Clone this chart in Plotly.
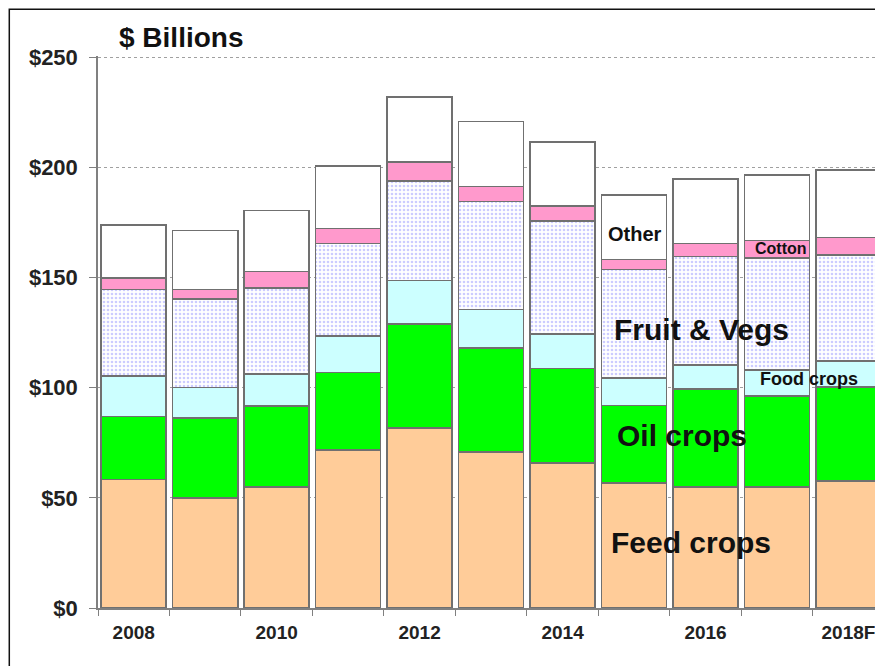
import plotly.graph_objects as go

years = ["2008", "2009", "2010", "2011", "2012", "2013", "2014", "2015", "2016", "2017", "2018F"]
tick_labels = ["2008", "", "2010", "", "2012", "", "2014", "", "2016", "", "2018F"]

feed_crops = [58.3, 50.0, 55.0, 71.6, 81.8, 70.7, 65.9, 56.8, 55.0, 54.9, 57.5]
oil_crops = [28.6, 36.1, 36.6, 35.2, 47.0, 47.3, 42.7, 35.1, 44.5, 41.2, 42.9]
food_crops = [18.3, 13.9, 14.5, 16.7, 19.9, 17.5, 15.8, 12.4, 10.8, 11.8, 11.6]
fruit_vegs = [39.3, 40.1, 39.0, 41.9, 45.0, 49.0, 51.1, 49.3, 49.2, 51.0, 48.3]
cotton = [5.3, 4.4, 7.6, 6.8, 8.7, 6.8, 6.8, 4.5, 5.9, 7.8, 7.8]
other = [23.9, 26.8, 27.7, 28.4, 29.4, 29.5, 29.2, 29.2, 29.2, 29.7, 30.7]

y_ticks = [0, 50, 100, 150, 200, 250]
y_tick_text = ["$0", "$50", "$100", "$150", "$200", "$250"]

FONT = "Arial, Liberation Sans, sans-serif"
xpos = list(range(len(years)))
line = dict(color="#707070", width=1.6)

fig = go.Figure()
series = [
    ("Feed crops", feed_crops, "#FFCC99", None),
    ("Oil crops", oil_crops, "#00FF00", None),
    ("Food crops", food_crops, "#CCFFFF", None),
    ("Fruit & Vegs", fruit_vegs, "#FFFFFF", dict(shape=".", fgcolor="#9a9aff", bgcolor="#FFFFFF", size=4, solidity=0.35)),
    ("Cotton", cotton, "#FF99CC", None),
    ("Other", other, "#FFFFFF", None),
]
for name, vals, col, pat in series:
    marker = dict(color=col, line=line)
    if pat:
        marker["pattern"] = pat
    fig.add_trace(go.Bar(x=xpos, y=vals, name=name, marker=marker, showlegend=False, hoverinfo="skip"))

annos = [
    ("Other", 7.015, 169.5, 20),
    ("Fruit & Vegs", 7.938, 126.4, 30),
    ("Cotton", 9.057, 163.1, 16),
    ("Food crops", 9.448, 104.1, 18),
    ("Oil crops", 7.672, 78.3, 30),
    ("Feed crops", 7.798, 29.7, 30),
]
for text, x, y, size in annos:
    fig.add_annotation(x=x, y=y, xref="x", yref="y", text="<b>" + text + "</b>", showarrow=False,
                       xanchor="center", yanchor="middle",
                       font=dict(family=FONT, size=size, color="#111111"))

fig.add_annotation(x=0.106, y=1.0342, xref="paper", yref="paper", text="<b>$ Billions</b>", showarrow=False,
                   xanchor="center", yanchor="middle",
                   font=dict(family=FONT, size=28, color="#111111"))

fig.add_shape(type="rect", xref="paper", yref="paper", x0=-0.113, x1=1.2, y0=-0.3, y1=1.0849,
              line=dict(color="#111111", width=1.5), layer="above")

fig.update_layout(
    width=875, height=658,
    margin=dict(l=89.7, r=0, t=47.9, b=57.5),
    paper_bgcolor="white", plot_bgcolor="white",
    barmode="stack", bargap=0.09,
    font=dict(family=FONT),
    xaxis=dict(
        range=[-0.5, 10.483], tickmode="array", tickvals=xpos,
        ticktext=["<b>" + t + "</b>" for t in tick_labels],
        ticks="", showgrid=False, zeroline=False,
        showline=True, linecolor="#808080", linewidth=1.5,
        tickfont=dict(family=FONT, size=19, color="#222222"),
        ticklabelstandoff=6,
        minor=dict(tickvals=[i - 0.5 for i in range(12)], ticks="outside", ticklen=6, tickcolor="#808080", showgrid=False),
    ),
    yaxis=dict(
        range=[0, 250.5], tickmode="array", tickvals=y_ticks,
        ticktext=["<b>" + t + "</b>" for t in y_tick_text],
        ticks="outside", ticklen=7, tickcolor="#808080",
        showgrid=True, gridcolor="#a0a0a0", griddash="dot", gridwidth=1,
        zeroline=False, showline=True, linecolor="#808080", linewidth=1.5,
        tickfont=dict(family=FONT, size=22, color="#222222"),
        ticklabelstandoff=7,
    ),
)

fig.write_html("out.html")
